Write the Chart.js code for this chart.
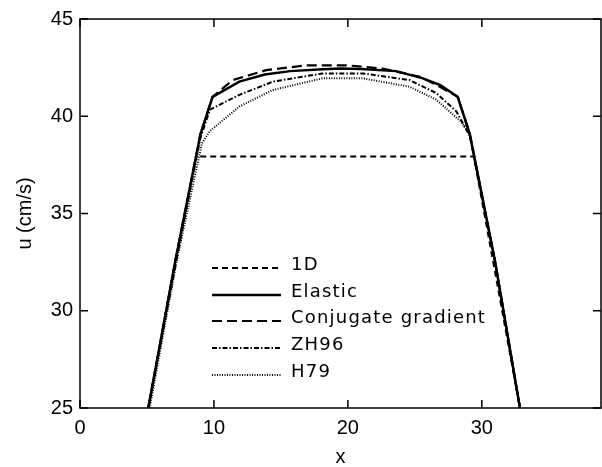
<!DOCTYPE html>
<html>
<head>
<meta charset="utf-8">
<script src="https://cdn.jsdelivr.net/npm/chart.js@4.4.1/dist/chart.umd.min.js"></script>
<style>
  html, body { margin: 0; padding: 0; background: #fff; }
  #wrap { width: 602px; height: 467px; position: relative; }
</style>
</head>
<body>
<div id="wrap"><canvas id="c"></canvas></div>
<script>
// ---- data ----
const seriesNames = ["1D", "Elastic", "Conjugate gradient", "ZH96", "H79"];

const x1D = [5.1, 8.68, 29.41, 32.85];
const y1D = [25, 37.93, 37.93, 25];

const xElastic = [5.1, 7.1, 9.0, 9.9, 11.9, 13.8, 15.7, 18.1, 19.5, 21.0, 23.6, 25.6, 26.9, 28.2, 29.1, 31.0, 32.85];
const yElastic = [25, 32.5, 39.1, 41.0, 41.78, 42.15, 42.32, 42.42, 42.45, 42.43, 42.32, 41.95, 41.6, 41.0, 39.1, 32.5, 25];

const xConj = [5.1, 7.1, 9.0, 9.9, 11.4, 13.9, 16.9, 19.9, 22.6, 25.4, 26.9, 28.2, 29.1, 31.0, 32.85];
const yConj = [25, 32.5, 39.1, 41.0, 41.86, 42.37, 42.62, 42.62, 42.45, 42.03, 41.5, 41.0, 39.1, 32.5, 25];

const xZH96 = [5.1, 7.1, 9.0, 9.7, 11.9, 14.4, 18.1, 21.1, 24.6, 26.6, 28.1, 29.1, 31.0, 32.85];
const yZH96 = [25, 32.5, 38.9, 40.34, 41.1, 41.78, 42.2, 42.2, 41.86, 41.19, 40.25, 39.0, 32.5, 25];

const xH79 = [5.2, 7.2, 9.1, 9.7, 11.9, 14.4, 18.1, 21.1, 24.6, 26.6, 28.4, 29.1, 31.0, 32.85];
const yH79 = [25, 32.5, 38.6, 39.24, 40.5, 41.35, 41.95, 41.95, 41.52, 40.85, 39.75, 39.08, 32.5, 25];

const xTicks = [0, 10, 20, 30];
const yTicks = [25, 30, 35, 40, 45];

// ---- styles ----
const styles = [
  { dash: [6, 4], width: 2 },
  { dash: [], width: 2.5 },
  { dash: [10, 5], width: 2.2 },
  { dash: [5, 2, 1.5, 2], width: 2 },
  { dash: [1, 1.5], width: 2 }
];

function pts(xs, ys) { return xs.map((x, i) => ({ x: x, y: ys[i] })); }
const allX = [x1D, xElastic, xConj, xZH96, xH79];
const allY = [y1D, yElastic, yConj, yZH96, yH79];

const datasets = seriesNames.map((n, i) => ({
  label: n,
  data: pts(allX[i], allY[i]),
  borderColor: '#000',
  borderWidth: styles[i].width,
  borderDash: styles[i].dash,
  pointRadius: 0,
  fill: false,
  tension: 0,
  showLine: true
}));

const FONT = "'Liberation Sans', Arial, sans-serif";

const framePlugin = {
  id: 'frame',
  afterDatasetsDraw(chart) {
    const ctx = chart.ctx;
    const a = chart.chartArea;
    const xs = chart.scales.x, ys = chart.scales.y;
    ctx.save();
    ctx.setLineDash([]);
    ctx.strokeStyle = '#000';
    ctx.lineWidth = 1.5;
    ctx.strokeRect(a.left, a.top, a.right - a.left, a.bottom - a.top);
    const tl = 8;
    ctx.beginPath();
    xTicks.forEach(v => {
      const px = xs.getPixelForValue(v);
      ctx.moveTo(px, a.bottom); ctx.lineTo(px, a.bottom - tl);
      ctx.moveTo(px, a.top); ctx.lineTo(px, a.top + tl);
    });
    yTicks.forEach(v => {
      const py = ys.getPixelForValue(v);
      ctx.moveTo(a.left, py); ctx.lineTo(a.left + tl, py);
      ctx.moveTo(a.right, py); ctx.lineTo(a.right - tl, py);
    });
    ctx.stroke();

    // legend inside plot
    const lx0 = 212, lx1 = 281, tx = 291;
    const rowY = [265, 292, 318, 345, 372];
    ctx.font = "18px 'DejaVu Sans', sans-serif";
    try { ctx.letterSpacing = '1.2px'; } catch (e) {}
    ctx.fillStyle = '#000';
    ctx.textBaseline = 'middle';
    ctx.textAlign = 'left';
    chart.data.datasets.forEach((ds, i) => {
      const y = rowY[i] + 3;
      ctx.beginPath();
      ctx.lineWidth = ds.borderWidth;
      ctx.setLineDash(ds.borderDash);
      ctx.moveTo(lx0, y); ctx.lineTo(lx1, y);
      ctx.stroke();
      ctx.setLineDash([]);
      ctx.fillText(ds.label, tx, rowY[i]);
    });
    ctx.restore();
  }
};

new Chart(document.getElementById('c'), {
  type: 'scatter',
  data: { datasets: datasets },
  plugins: [framePlugin],
  options: {
    responsive: true,
    maintainAspectRatio: false,
    animation: false,
    layout: { padding: { left: 0, top: 13, right: 1, bottom: 0 } },
    plugins: { legend: { display: false }, tooltip: { enabled: false } },
    scales: {
      x: {
        type: 'linear',
        min: 0, max: 38.9,
        afterBuildTicks: s => { s.ticks = xTicks.map(v => ({ value: v })); },
        afterFit: s => { s.height = 59; },
        grid: { display: false, drawTicks: false },
        border: { display: false },
        ticks: { color: '#000', font: { family: FONT, size: 20 }, padding: 8, maxRotation: 0 },
        title: { display: true, text: 'x', color: '#000', font: { family: FONT, size: 20, lineHeight: 1 }, padding: { top: 0, bottom: 0 } }
      },
      y: {
        type: 'linear',
        min: 25, max: 45,
        afterBuildTicks: s => { s.ticks = yTicks.map(v => ({ value: v })); },
        afterFit: s => { s.width = 80; },
        grid: { display: false, drawTicks: false },
        border: { display: false },
        ticks: { color: '#000', font: { family: FONT, size: 20 }, padding: 7 },
        title: { display: true, text: 'u (cm/s)', color: '#000', font: { family: FONT, size: 20, lineHeight: 1 }, padding: { top: 15, bottom: 15 } }
      }
    }
  }
});
</script>
</body>
</html>
